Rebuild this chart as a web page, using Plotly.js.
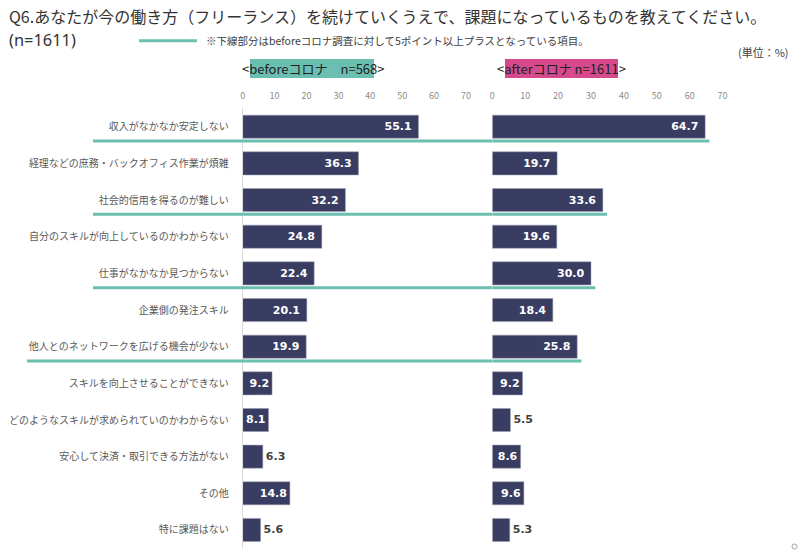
<!DOCTYPE html>
<html>
<head>
<meta charset="utf-8">
<script src="https://cdn.plot.ly/plotly-3.0.1.min.js"></script>
<style>html,body{margin:0;padding:0;background:#fff;}#chart{width:800px;height:551px;}</style>
</head>
<body>
<div id="chart"></div>
<script>
// ---- data ----
const categories = [
  "収入がなかなか安定しない",
  "経理などの庶務・バックオフィス作業が煩雑",
  "社会的信用を得るのが難しい",
  "自分のスキルが向上しているのかわからない",
  "仕事がなかなか見つからない",
  "企業側の発注スキル",
  "他人とのネットワークを広げる機会が少ない",
  "スキルを向上させることができない",
  "どのようなスキルが求められていのかわからない",
  "安心して決済・取引できる方法がない",
  "その他",
  "特に課題はない"
];
const beforeValues = [55.1, 36.3, 32.2, 24.8, 22.4, 20.1, 19.9, 9.2, 8.1, 6.3, 14.8, 5.6];
const afterValues  = [64.7, 19.7, 33.6, 19.6, 30.0, 18.4, 25.8, 9.2, 5.5, 8.6, 9.6, 5.3];
const highlightedRows = [0, 2, 4, 6];
const tickValues = [0, 10, 20, 30, 40, 50, 60, 70];
const titleText = "Q6.あなたが今の働き方（フリーランス）を続けていくうえで、課題になっているものを教えてください。";
const sampleText = "(n=1611)";
const noteText = "※下線部分はbeforeコロナ調査に対して5ポイント以上プラスとなっている項目。";
const unitText = "(単位：%)";
const beforeHeader = "<beforeコロナ　n=568>";
const afterHeader = "<afterコロナ n=1611>";

// ---- styles ----
const W = 800, H = 551;
const px = x => x / W;
const py = y => 1 - y / H;
const JP = '"Noto Sans CJK JP", "Noto Sans", sans-serif';
const LAT = '"Noto Sans", "Noto Sans CJK JP", sans-serif';
const NUM = '"DejaVu Sans", Verdana, sans-serif';
const barColor = '#393d62';
const teal = '#6bbfb1';
const pink = '#d6498d';
const dom1 = [px(242.7), px(466)];
const dom2 = [px(492.3), px(722.6)];
const esc = s => s.replace(/</g, '&lt;').replace(/>/g, '&gt;');

function barTrace(vals, xa) {
  return {
    type: 'bar', orientation: 'h',
    y: categories, x: vals,
    xaxis: xa, yaxis: 'y',
    marker: {color: barColor, line: {color: '#9a9cb3', width: 0.5}},
    text: vals.map(v => v >= 15 ? v.toFixed(1) + '\u00a0' : v.toFixed(1)),
    textposition: vals.map(v => v >= 8 ? 'inside' : 'outside'),
    insidetextanchor: 'end',
    constraintext: 'none',
    cliponaxis: false,
    insidetextfont: {family: NUM, size: 11, color: '#ffffff', weight: 'bold'},
    outsidetextfont: {family: NUM, size: 11, color: '#404040', weight: 'bold'},
    hoverinfo: 'skip'
  };
}

const traces = [barTrace(beforeValues, 'x'), barTrace(afterValues, 'x2')];

const xCommon = {
  range: [0, 70], side: 'top', tickvals: tickValues,
  showgrid: false, zeroline: false, showline: false,
  ticks: 'outside', ticklen: 5, tickcolor: 'rgba(0,0,0,0)',
  tickfont: {family: JP, size: 9, color: '#8c8c8c'},
  fixedrange: true
};

const shapes = [];
const lineOffset = 0.39;
highlightedRows.forEach(i => {
  const startX = i === 6 ? px(27) : px(93);
  shapes.push({type: 'line', xref: 'paper', yref: 'y', x0: startX, x1: dom2[0],
    y0: i + lineOffset, y1: i + lineOffset, line: {color: teal, width: 3}, layer: 'above'});
  shapes.push({type: 'line', xref: 'x2', yref: 'y', x0: 0, x1: afterValues[i] + 1.3,
    y0: i + lineOffset, y1: i + lineOffset, line: {color: teal, width: 3}, layer: 'above'});
});
// legend line
shapes.push({type: 'line', xref: 'paper', yref: 'paper', x0: px(139), x1: px(197),
  y0: py(40.7), y1: py(40.7), line: {color: teal, width: 3}});
// header badges
shapes.push({type: 'rect', xref: 'paper', yref: 'paper', x0: px(250), x1: px(374),
  y0: py(78), y1: py(59), fillcolor: teal, line: {width: 0}, layer: 'below'});
shapes.push({type: 'rect', xref: 'paper', yref: 'paper', x0: px(505), x1: px(618),
  y0: py(78), y1: py(59), fillcolor: pink, line: {width: 0}, layer: 'below'});
// small page marker
shapes.push({type: 'circle', xref: 'paper', yref: 'paper', x0: px(792), x1: px(797),
  y0: py(549), y1: py(544), line: {color: '#a0a0a0', width: 1}});

const annotations = [
  {text: titleText, x: px(8), y: py(16), xanchor: 'left', yanchor: 'middle',
   font: {family: JP, size: 16, color: '#333333'}},
  {text: sampleText, x: px(8), y: py(39.5), xanchor: 'left', yanchor: 'middle',
   font: {family: LAT, size: 16.4, color: '#333333'}},
  {text: noteText,
   x: px(205), y: py(40.5), xanchor: 'left', yanchor: 'middle', font: {family: JP, size: 10.5, color: '#404040'}},
  {text: unitText, x: px(790), y: py(52), xanchor: 'right', yanchor: 'middle', font: {family: JP, size: 11, color: '#404040'}},
  {text: esc(beforeHeader), x: px(313), y: py(68.5), xanchor: 'center', yanchor: 'middle',
   font: {family: JP, size: 13, color: '#222222'}},
  {text: esc(afterHeader), x: px(561), y: py(68.5), xanchor: 'center', yanchor: 'middle',
   font: {family: JP, size: 13, color: '#222222'}}
].map(a => Object.assign({xref: 'paper', yref: 'paper', showarrow: false, borderpad: 0}, a));

const layout = {
  width: W, height: H,
  margin: {l: 0, r: 0, t: 0, b: 0},
  paper_bgcolor: '#ffffff', plot_bgcolor: 'rgba(0,0,0,0)',
  showlegend: false,
  barmode: 'overlay', bargap: 0.37,
  xaxis: Object.assign({}, xCommon, {domain: dom1, anchor: 'y'}),
  xaxis2: Object.assign({}, xCommon, {domain: dom2, anchor: 'y'}),
  yaxis: {
    domain: [py(548.3), py(108.4)], anchor: 'x',
    autorange: 'reversed', type: 'category',
    showgrid: false, zeroline: false,
    showline: true, linecolor: '#d9d9d9', linewidth: 1,
    ticks: '', ticklabelstandoff: 11,
    tickfont: {family: JP, size: 10, color: '#595959'},
    fixedrange: true
  },
  shapes: shapes,
  annotations: annotations,
  font: {family: JP}
};

Plotly.newPlot('chart', traces, layout, {displayModeBar: false, staticPlot: true});
</script>
</body>
</html>
